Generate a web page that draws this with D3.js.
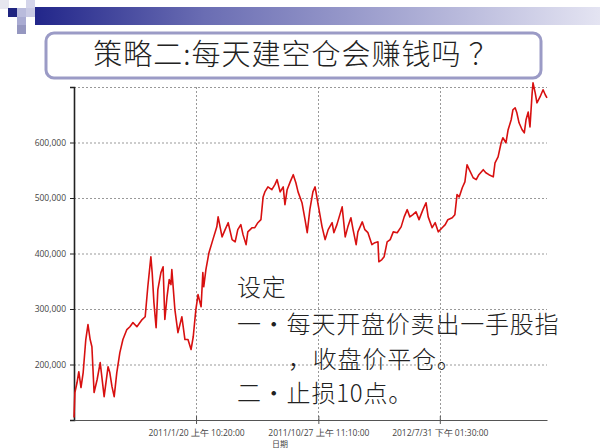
<!DOCTYPE html>
<html><head><meta charset="utf-8">
<script src="https://cdn.jsdelivr.net/npm/d3@7/dist/d3.min.js"></script>
<style>html,body{margin:0;padding:0;background:#fff;}svg{display:block;}</style>
</head><body>
<svg id="c" width="600" height="448"></svg>
<script>
// ---- data ----
const startDate = "2010-04-16";
const dayOffsets = [0,2,7,11,16,21,27,32,37,41,46,53,60,69,78,82,87,92,98,105,112,121,128,135,144,156,163,169,176,179,183,188,192,199,204,208,213,218,222,224,231,238,247,254,261,268,273,279,284,291,295,297,302,309,318,327,330,339,346,353,362,369,375,382,387,394,398,408,414,421,428,433,437,444,453,460,465,472,479,483,488,495,502,508,513,522,529,534,540,547,552,559,568,575,582,591,595,602,614,621,627,634,639,646,650,660,666,673,682,689,696,698,705,710,717,724,731,740,749,756,763,769,776,783,790,799,806,811,820,827,834,843,850,856,866,872,877,882,889,895,900,905,914,921,927,937,943,950,960,964,971,978,982,989,994,1001,1005,1010,1014,1019,1026,1031,1035,1040,1044,1049,1051,1056,1060,1067,1074,1079,1083];
const equity = [104500,149500,167500,187000,158500,185500,245000,272000,245000,232000,149500,173000,203500,142000,196000,185500,160000,142000,185500,221500,245000,263000,268000,275500,268000,281000,286000,340000,394000,365500,311500,266500,335000,365500,376000,281000,322000,353000,344000,371000,299000,257500,286000,245000,245000,227000,250000,299000,326000,304000,365500,340000,371000,401500,425000,448000,466000,430000,443000,455500,425000,421000,443000,452000,434000,416000,439000,446500,446500,455500,461000,502000,511000,520000,515000,524000,533000,511000,520000,488000,515000,529000,542000,527500,511000,491500,461000,437500,479000,511000,520000,488000,448000,425000,443000,455500,437500,452000,484000,430000,448000,464500,443000,416000,439000,457000,443000,437500,416000,419500,421000,385000,389000,394000,421000,425000,439000,437500,448000,466000,479000,466000,470000,475000,461000,479000,491500,466000,446500,455500,439000,446500,452000,461000,464500,470000,506000,502000,518500,529000,560000,551000,536500,533000,542000,551000,545500,542000,538000,563500,574000,599500,608500,599500,623000,641000,659000,662500,653500,635500,623000,617500,641000,655000,628000,689500,707500,689500,671500,682000,695000,686000,680500];
const yTickValues = [200000,300000,400000,500000,600000];
const yGridValues = [200000,300000,400000,500000,600000,700000];
const xTickDates = ["2011-01-20T10:20:00","2011-10-27T11:10:00","2012-07-31T13:30:00"];
const xTickLabels = ["2011/1/20 上午 10:20:00","2011/10/27 上午 11:10:00","2012/7/31 下午 01:30:00"];
const titleText = "策略二:每天建空仓会赚钱吗 ？";
const noteLines = ["设定","一・每天开盘价卖出一手股指","，收盘价平仓。","二・止损10点。"];
const xAxisTitle = "日期";

// ---- build ----
const svg = d3.select("#c");
const start = new Date(startDate + "T00:00:00");
const series = dayOffsets.map((d,i)=>({date:d3.timeDay.offset(start,d), v:equity[i]}));
const tickDates = xTickDates.map(s=>new Date(s));

const x = d3.scaleTime().domain(d3.extent(series,d=>d.date)).range([74,547]);
const y = d3.scaleLinear().domain([100000,700000]).range([420,87]);

// decoration
const defs = svg.append("defs");
const lg = defs.append("linearGradient").attr("id","bar").attr("x1","0").attr("x2","1").attr("y1","0").attr("y2","0");
lg.append("stop").attr("offset","0").attr("stop-color","#22268a");
lg.append("stop").attr("offset","0.3").attr("stop-color","#6a6db3");
lg.append("stop").attr("offset","1").attr("stop-color","#e4e4f2");
svg.append("rect").attr("x",35).attr("y",7).attr("width",565).attr("height",18).attr("fill","url(#bar)");
const sq = [[0,0,"#e6e6ef"],[8,8,"#1f2480"],[17,8,"#b9bbdc"],[26,0,"#d4d5ea"],[26,8,"#c9cae4"],[17,17,"#a9abd2"],[17,25,"#9597c0"]];
svg.selectAll("rect.sq").data(sq).enter().append("rect").attr("class","sq")
  .attr("x",d=>d[0]).attr("y",d=>d[1]).attr("width",9).attr("height",9).attr("fill",d=>d[2]);

// title box
svg.append("rect").attr("x",46).attr("y",33).attr("width",495).attr("height",45).attr("rx",8)
  .attr("fill","#fff").attr("stroke","#9b9bc6").attr("stroke-width",3);
svg.append("text").attr("x",296).attr("y",65).attr("text-anchor","middle")
  .attr("font-family","'Noto Sans CJK SC'").attr("font-size",29).attr("font-weight",300)
  .attr("letter-spacing",1.0).attr("fill","#222").text(titleText);

// grid
svg.append("g").selectAll("line").data(yGridValues).enter().append("line")
  .attr("x1",74).attr("x2",547).attr("y1",d=>y(d)+0.5).attr("y2",d=>y(d)+0.5)
  .attr("stroke","#999").attr("stroke-dasharray","2,2").attr("stroke-width",1);
svg.append("g").selectAll("line").data(tickDates).enter().append("line")
  .attr("x1",d=>Math.round(x(d))+0.5).attr("x2",d=>Math.round(x(d))+0.5).attr("y1",87).attr("y2",420)
  .attr("stroke","#999").attr("stroke-dasharray","2,2").attr("stroke-width",1);

// axes
const ya = svg.append("g").attr("transform","translate(74,0)")
  .call(d3.axisLeft(y).tickValues(yTickValues).tickFormat(d3.format(",")).tickSize(4).tickSizeOuter(4));
ya.select(".domain").attr("stroke","#222").attr("stroke-width",1.6);
ya.selectAll(".tick line").attr("stroke","#222");
ya.selectAll("text").attr("font-family","'Open Sans'").attr("font-size",8.5).attr("fill","#444").attr("dx",-1);

const xa = svg.append("g").attr("transform","translate(0,420)")
  .call(d3.axisBottom(x).tickValues(tickDates).tickFormat((d,i)=>xTickLabels[i]).tickSize(4).tickSizeOuter(0));
xa.select(".domain").attr("stroke","#555").attr("stroke-width",1.2);
xa.selectAll(".tick line").attr("stroke","#555").attr("y1",-4);
xa.selectAll("text").attr("font-family","'Open Sans'").attr("font-size",8.5).attr("fill","#444").attr("dy","1.05em");
svg.append("text").attr("x",280).attr("y",447).attr("text-anchor","middle")
  .attr("font-family","'Noto Sans CJK SC'").attr("font-size",8).attr("fill","#444").text(xAxisTitle);

// line
const line = d3.line().x(d=>x(d.date)).y(d=>y(d.v));
svg.append("path").datum(series).attr("d",line).attr("fill","none")
  .attr("stroke","#d81010").attr("stroke-width",1.6).attr("stroke-linejoin","round");

// note text
const notePos = [[237,296],[237,333],[288,368],[237,402]];
svg.append("g").selectAll("text").data(noteLines).enter().append("text")
  .attr("x",(d,i)=>notePos[i][0]).attr("y",(d,i)=>notePos[i][1])
  .attr("font-family","'Noto Sans CJK SC'").attr("font-size",24).attr("font-weight",300)
  .attr("letter-spacing",0.8).attr("fill","#222").text(d=>d);
</script>
</body></html>
